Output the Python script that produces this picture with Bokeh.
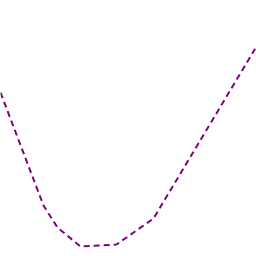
from bokeh.plotting import figure
from bokeh.embed import file_html
from bokeh.resources import INLINE
from bokeh.models import Range1d

x_vals = [0, 43, 57, 80, 116, 153, 256]
y_vals = [164, 51, 29, 10, 12, 38, 210]

p = figure(width=256, height=256, output_backend="svg", toolbar_location=None,
           x_range=Range1d(0, 256), y_range=Range1d(0, 256), min_border=0)
p.axis.visible = False
p.grid.visible = False
p.outline_line_color = None
p.background_fill_color = "white"
p.border_fill_color = "white"
p.line(x_vals, y_vals, line_color="#800080", line_width=2, line_dash="6 4")

open("out.html", "w").write(file_html(p, INLINE))
